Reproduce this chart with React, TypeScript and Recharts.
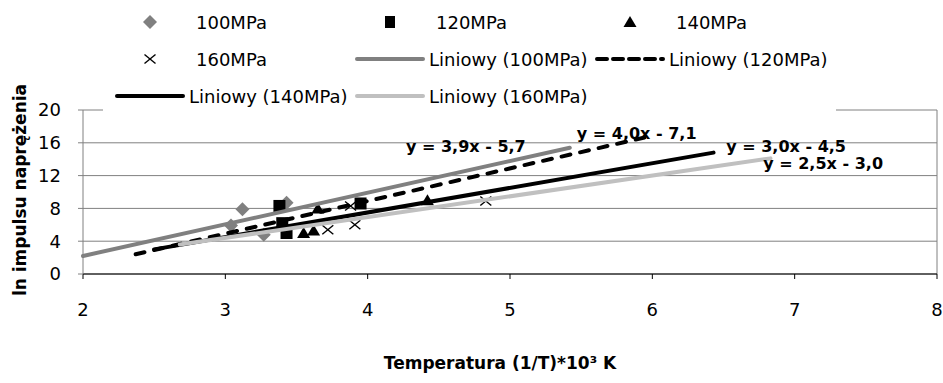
import React from 'react';
import { ScatterChart, Scatter, XAxis, YAxis, CartesianGrid, Legend, ReferenceLine, ReferenceDot } from 'recharts';

const FONT = '"DejaVu Sans", Arial, sans-serif';

const xTicks = [2, 3, 4, 5, 6, 7, 8];
const yTicks = [0, 4, 8, 12, 16, 20];

// measured points (1/T*10^3, ln impulse)
const pts100 = [{ x: 3.04, y: 5.9 }, { x: 3.12, y: 7.9 }, { x: 3.27, y: 4.8 }, { x: 3.43, y: 8.7 }];
const pts120 = [{ x: 3.38, y: 8.3 }, { x: 3.4, y: 6.2 }, { x: 3.43, y: 5.0 }, { x: 3.95, y: 8.6 }];
const pts140 = [{ x: 3.55, y: 5.0 }, { x: 3.62, y: 5.3 }, { x: 3.65, y: 8.0 }, { x: 4.42, y: 9.0 }];
const pts160 = [{ x: 3.72, y: 5.4 }, { x: 3.88, y: 8.3 }, { x: 3.91, y: 6.0 }, { x: 4.83, y: 8.9 }];

// trendline end points as drawn
const trend100 = [{ x: 2.0, y: 2.2 }, { x: 5.42, y: 15.4 }];
const trend120 = [{ x: 2.37, y: 2.4 }, { x: 5.96, y: 16.7 }];
const trend140 = [{ x: 2.5, y: 3.0 }, { x: 6.43, y: 14.8 }];
const trend160 = [{ x: 2.68, y: 3.6 }, { x: 6.83, y: 14.1 }];

const equations = [
  { x: 4.69, y: 15.6, text: 'y = 3,9x - 5,7' },
  { x: 5.89, y: 17.2, text: 'y = 4,0x - 7,1' },
  { x: 6.94, y: 15.6, text: 'y = 3,0x - 4,5' },
  { x: 7.2, y: 13.5, text: 'y = 2,5x - 3,0' },
];

const legendItems = [
  { name: '100MPa', kind: 'diamond' },
  { name: '120MPa', kind: 'square' },
  { name: '140MPa', kind: 'triangle' },
  { name: '160MPa', kind: 'cross' },
  { name: 'Liniowy (100MPa)', kind: 'line', color: '#808080' },
  { name: 'Liniowy (120MPa)', kind: 'dash', color: '#000' },
  { name: 'Liniowy (140MPa)', kind: 'line', color: '#000' },
  { name: 'Liniowy (160MPa)', kind: 'line', color: '#C0C0C0' },
];

const Diamond = (p: any) => {
  const { cx, cy } = p;
  return <polygon points={`${cx},${cy - 7} ${cx + 7},${cy} ${cx},${cy + 7} ${cx - 7},${cy}`} fill="#808080" />;
};
const Square = (p: any) => <rect x={p.cx - 6} y={p.cy - 6} width={12} height={12} fill="#000" />;
const Triangle = (p: any) => {
  const { cx, cy } = p;
  return <polygon points={`${cx},${cy - 6} ${cx + 6.5},${cy + 5} ${cx - 6.5},${cy + 5}`} fill="#000" />;
};
const Cross = (p: any) => {
  const { cx, cy } = p;
  return (
    <g stroke="#000" strokeWidth={1.4}>
      <line x1={cx - 5.5} y1={cy - 4.5} x2={cx + 5.5} y2={cy + 4.5} />
      <line x1={cx - 5.5} y1={cy + 4.5} x2={cx + 5.5} y2={cy - 4.5} />
    </g>
  );
};
const NoDot = () => <g />;

const LegendSymbol = ({ item }: { item: any }) => {
  const cx = 35, cy = 18;
  let mark: React.ReactNode = null;
  if (item.kind === 'diamond') mark = <Diamond cx={cx} cy={cy} />;
  if (item.kind === 'square') mark = <rect x={cx - 5} y={cy - 6} width={10} height={12} fill="#000" />;
  if (item.kind === 'triangle') mark = <Triangle cx={cx} cy={cy} />;
  if (item.kind === 'cross') mark = <Cross cx={cx} cy={cy} />;
  if (item.kind === 'line') mark = <line x1={2} y1={cy} x2={68} y2={cy} stroke={item.color} strokeWidth={4} strokeLinecap="round" />;
  if (item.kind === 'dash') mark = <line x1={2} y1={cy} x2={68} y2={cy} stroke={item.color} strokeWidth={4} strokeLinecap="round" strokeDasharray="10 6" />;
  return <svg width={70} height={37} style={{ flex: 'none' }}>{mark}</svg>;
};

const renderLegend = () => (
  <div style={{ background: '#fff', width: 733, height: 113, paddingTop: 4, paddingLeft: 12, boxSizing: 'border-box', display: 'flex', flexWrap: 'wrap', alignContent: 'flex-start' }}>
    {legendItems.map((item) => (
      <div key={item.name} style={{ width: 240, height: 37, display: 'flex', alignItems: 'center' }}>
        <LegendSymbol item={item} />
        <span style={{ marginLeft: item.kind === 'line' || item.kind === 'dash' ? 4 : 11, fontFamily: FONT, fontSize: 18, color: '#000', whiteSpace: 'nowrap' }}>
          {item.name}
        </span>
      </div>
    ))}
  </div>
);

const YTitle = (props: any) => {
  const vb = props.viewBox;
  return (
    <text transform={`translate(20, ${vb.y + vb.height / 2 - 2}) rotate(-90)`} textAnchor="middle" dominantBaseline="central"
      fontFamily={FONT} fontWeight="bold" fontSize={17} fill="#000">
      ln impulsu naprężenia
    </text>
  );
};

const XTitle = (props: any) => {
  const vb = props.viewBox;
  return (
    <text x={500} y={vb.y + 89} textAnchor="middle" dominantBaseline="central"
      fontFamily={FONT} fontWeight="bold" fontSize={17} fill="#000">
      Temperatura (1/T)*10³ K
    </text>
  );
};

export default function App() {
  return (
    <div style={{ position: 'absolute', left: 0, top: 0, width: 943, height: 383, background: '#fff' }}>
      <ScatterChart width={943} height={383} margin={{ top: 110, right: 6, bottom: 0, left: 0 }}>
        <CartesianGrid vertical={false} stroke="#808080" strokeWidth={1} />
        <XAxis
          type="number"
          dataKey="x"
          domain={[2, 8]}
          ticks={xTicks}
          height={109}
          stroke="#000"
          tickSize={5}
          tickMargin={24}
          tick={{ fill: '#000', fontSize: 18, fontFamily: FONT }}
          label={{ content: XTitle }}
        />
        <YAxis
          type="number"
          dataKey="y"
          domain={[0, 20]}
          ticks={yTicks}
          width={83}
          stroke="#808080"
          tickSize={5}
          tickMargin={17}
          tick={{ fill: '#000', fontSize: 18, fontFamily: FONT }}
          label={{ content: YTitle }}
        />
        <ReferenceLine x={8} stroke="#808080" strokeWidth={1} />
        <Legend layout="vertical" align="center" verticalAlign="middle" wrapperStyle={{ left: 103, top: 0, width: 733, height: 113, zIndex: 5 }} content={renderLegend} />
        <Scatter name="100MPa" data={pts100} shape={Diamond} isAnimationActive={false} />
        <Scatter name="120MPa" data={pts120} shape={Square} isAnimationActive={false} />
        <Scatter name="140MPa" data={pts140} shape={Triangle} isAnimationActive={false} />
        <Scatter name="160MPa" data={pts160} shape={Cross} isAnimationActive={false} />
        <Scatter name="Liniowy (100MPa)" data={trend100} shape={NoDot} line={{ stroke: '#808080', strokeWidth: 4, strokeLinecap: 'round' }} isAnimationActive={false} />
        <Scatter name="Liniowy (120MPa)" data={trend120} shape={NoDot} line={{ stroke: '#000', strokeWidth: 4, strokeLinecap: 'round', strokeDasharray: '9 10' }} isAnimationActive={false} />
        <Scatter name="Liniowy (140MPa)" data={trend140} shape={NoDot} line={{ stroke: '#000', strokeWidth: 4, strokeLinecap: 'round' }} isAnimationActive={false} />
        <Scatter name="Liniowy (160MPa)" data={trend160} shape={NoDot} line={{ stroke: '#C0C0C0', strokeWidth: 4, strokeLinecap: 'round' }} isAnimationActive={false} />
        {equations.map((eq) => (
          <ReferenceDot
            key={eq.text}
            x={eq.x}
            y={eq.y}
            r={0}
            fill="none"
            stroke="none"
            label={{ value: eq.text, position: 'center', fill: '#000', fontSize: 16, fontWeight: 'bold', fontFamily: FONT }}
          />
        ))}
      </ScatterChart>
    </div>
  );
}
